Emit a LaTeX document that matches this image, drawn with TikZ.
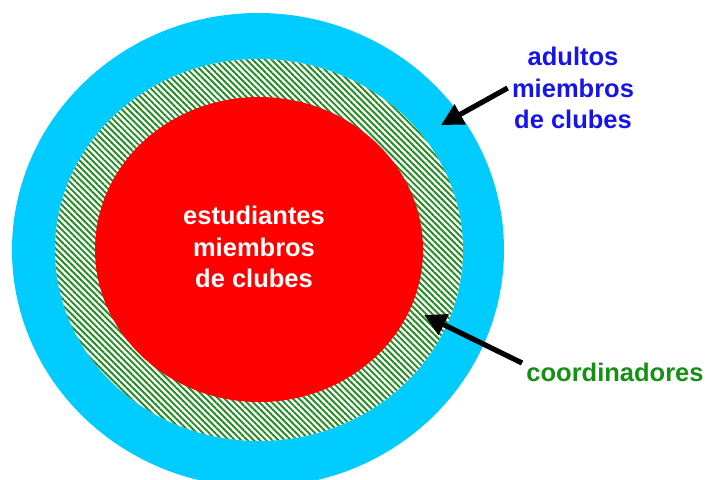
\documentclass[tikz,border=0pt]{standalone}
\usepackage{fontspec}
\setmainfont{Liberation Sans}
\usetikzlibrary{arrows.meta, patterns.meta, positioning}
\definecolor{skyblue}{RGB}{0,204,255}
\definecolor{hatchgreen}{RGB}{34,139,34}
\definecolor{labelblue}{RGB}{20,20,235}
\definecolor{labelgreen}{RGB}{20,145,20}

\begin{document}
\begin{tikzpicture}[x=0.5pt, y=-0.5pt,
		ringlabel/.style={font=\bfseries\fontsize{12.75}{15.75}\selectfont, align=center, inner sep=2pt},
		pointer/.style={line width=2.6pt, -{Triangle[length=11pt, width=11pt]}}]
		\useasboundingbox (0,0) rectangle (708,479);
		\clip (0,0) rectangle (708,479);
		\fill [skyblue] (258,250) ellipse [x radius=246, y radius=237];
		\fill [white] (259,250) ellipse [x radius=204, y radius=191];
		\fill [pattern={Lines[angle=-45, distance=2.2pt, line width=0.95pt]}, pattern color=hatchgreen] (259,250) ellipse [x radius=204, y radius=191];
		\fill [red] (259,249.5) ellipse [x radius=164, y radius=152.5];
		
		\node [ringlabel, white] (students) at (254,247) {estudiantes\\miembros\\de clubes};
		\node [ringlabel, labelblue] (adults) at (573,88) {adultos\\miembros\\de clubes};
		\node [ringlabel, labelgreen] (coords) at (615,372) {coordinadores};
		
		\coordinate (adultsring) at (441,125);
		\coordinate (coordsring) at (424,315);
		\draw [pointer] (adults.west) -- (adultsring);
		\draw [pointer] ([yshift=4.5pt]coords.west) -- (coordsring);
	\end{tikzpicture}
\end{document}
